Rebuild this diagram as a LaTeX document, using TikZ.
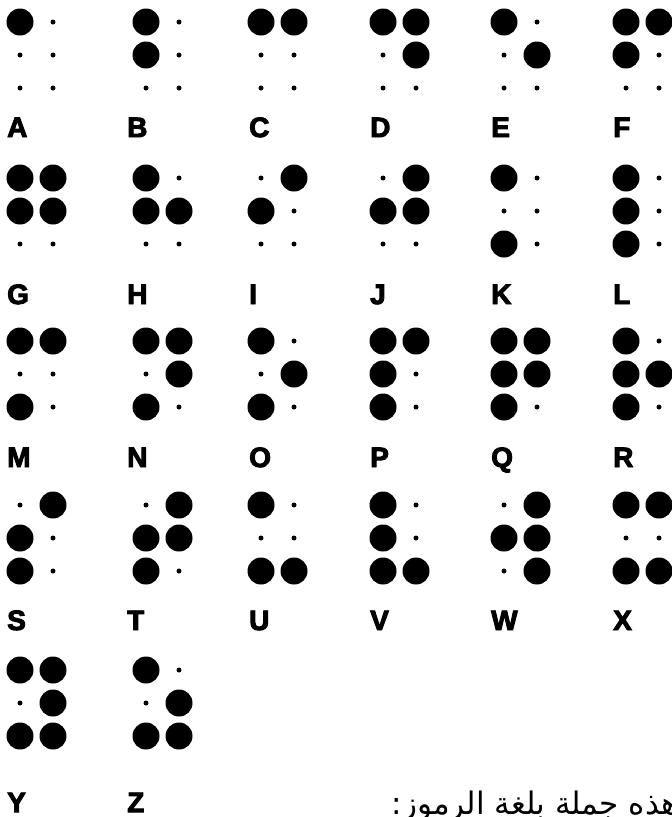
\documentclass[tikz,border=0pt]{standalone}
\usepackage{fontspec}
\TeXXeTstate=1
\newfontfamily\lblfont{Liberation Sans}[BoldFeatures={FakeBold=3.5}]
\newfontfamily\arabicfont[Script=Arabic]{DejaVu Sans}
\tikzset{
  bigdot/.style={circle, fill=black, draw=none, inner sep=0pt, minimum size=27pt},
  smalldot/.style={circle, fill=black, draw=none, inner sep=0pt, minimum size=5pt},
  lbl/.style={anchor=base west, inner sep=0pt, font=\lblfont\bfseries\fontsize{28}{28}\selectfont},
}
\newcommand\brlcell[4]{%
  \foreach \v [count=\i] in {#4} {%
    \pgfmathsetmacro\cx{#2 + (\i>3)*33}%
    \pgfmathsetmacro\cy{#3 + mod(\i-1,3)*33}%
    \ifnum\v=1
      \node[bigdot] (#1-\i) at (\cx,\cy) {};
    \else
      \node[smalldot] (#1-\i) at (\cx,\cy) {};
    \fi
  }%
}
\begin{document}
\begin{tikzpicture}[x=1pt, y=-1pt]
\useasboundingbox (0,0) rectangle (672,817);
% row 1
\brlcell{A}{20}{22}{1,0,0,0,0,0}
\brlcell{B}{146}{22}{1,1,0,0,0,0}
\brlcell{C}{261}{22}{1,0,0,1,0,0}
\brlcell{D}{383}{22}{1,0,0,1,1,0}
\brlcell{E}{504}{22}{1,0,0,0,1,0}
\brlcell{F}{626}{22}{1,1,0,1,0,0}
% row 2
\brlcell{G}{20}{178}{1,1,0,1,1,0}
\brlcell{H}{146}{178}{1,1,0,0,1,0}
\brlcell{I}{261}{178}{0,1,0,1,0,0}
\brlcell{J}{383}{178}{0,1,0,1,1,0}
\brlcell{K}{504}{178}{1,0,1,0,0,0}
\brlcell{L}{626}{178}{1,1,1,0,0,0}
% row 3
\brlcell{M}{20}{341}{1,0,1,1,0,0}
\brlcell{N}{146}{341}{1,0,1,1,1,0}
\brlcell{O}{261}{341}{1,0,1,0,1,0}
\brlcell{P}{383}{341}{1,1,1,1,0,0}
\brlcell{Q}{504}{341}{1,1,1,1,1,0}
\brlcell{R}{626}{341}{1,1,1,0,1,0}
% row 4
\brlcell{S}{20}{505}{0,1,1,1,0,0}
\brlcell{T}{146}{505}{0,1,1,1,1,0}
\brlcell{U}{261}{505}{1,0,1,0,0,1}
\brlcell{V}{383}{505}{1,1,1,0,0,1}
\brlcell{W}{504}{505}{0,1,0,1,1,1}
\brlcell{X}{626}{505}{1,0,1,1,0,1}
% row 5
\brlcell{Y}{20}{670}{1,0,1,1,1,1}
\brlcell{Z}{146}{670}{1,0,1,0,1,1}
% letters
\node[lbl] (tA) at (7,137) {A};
\node[lbl] (tB) at (127,137) {B};
\node[lbl] (tC) at (249,137) {C};
\node[lbl] (tD) at (370,137) {D};
\node[lbl] (tE) at (491,137) {E};
\node[lbl] (tF) at (613,137) {F};
\node[lbl] (tG) at (7,304) {G};
\node[lbl] (tH) at (127,304) {H};
\node[lbl] (tI) at (249,304) {I};
\node[lbl] (tJ) at (370,304) {J};
\node[lbl] (tK) at (491,304) {K};
\node[lbl] (tL) at (613,304) {L};
\node[lbl] (tM) at (7,467) {M};
\node[lbl] (tN) at (127,467) {N};
\node[lbl] (tO) at (249,467) {O};
\node[lbl] (tP) at (370,467) {P};
\node[lbl] (tQ) at (491,467) {Q};
\node[lbl] (tR) at (613,467) {R};
\node[lbl] (tS) at (7,630) {S};
\node[lbl] (tT) at (127,630) {T};
\node[lbl] (tU) at (249,630) {U};
\node[lbl] (tV) at (370,630) {V};
\node[lbl] (tW) at (491,630) {W};
\node[lbl] (tX) at (613,630) {X};
\node[lbl] (tY) at (7,812) {Y};
\node[lbl] (tZ) at (127,812) {Z};
% arabic sentence
\node[anchor=base east, inner sep=0pt] (ar) at (678,814)
  {\arabicfont\fontsize{31}{31}\selectfont\beginR هذه جملة بلغة الرموز:\endR};
\end{tikzpicture}
\end{document}
